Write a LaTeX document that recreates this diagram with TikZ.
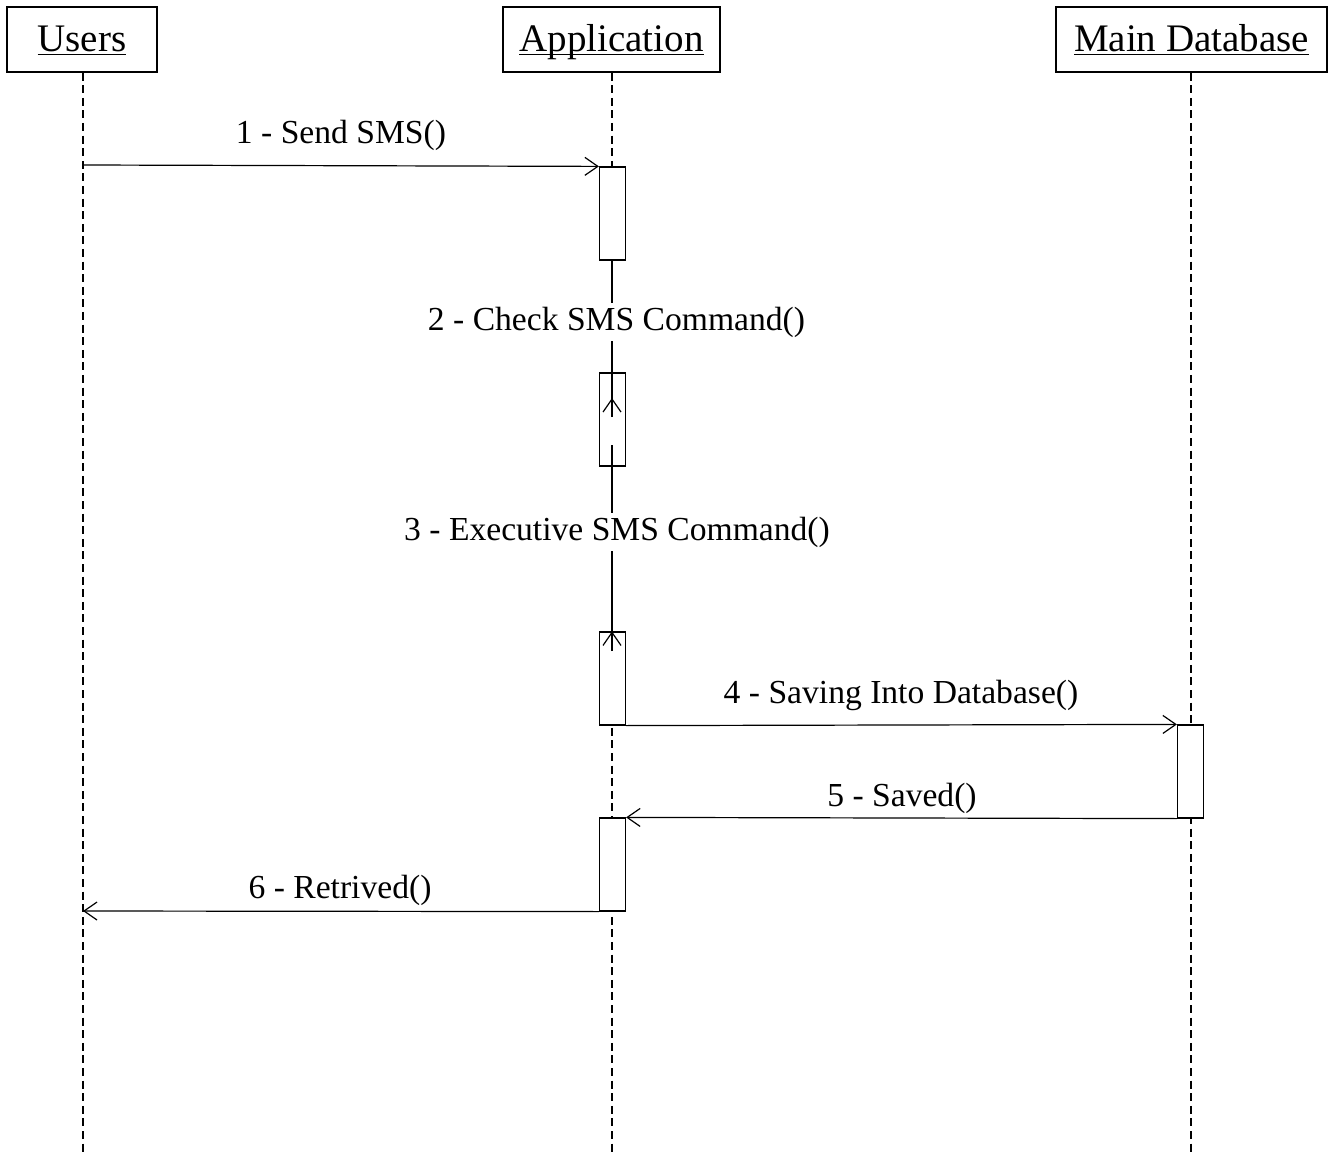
\documentclass[tikz,border=0pt]{standalone}
\usepackage{fontspec}
\setmainfont{Liberation Serif}
\usetikzlibrary{arrows.meta}

% underlined participant name, rule drawn just below the baseline
\newcommand{\seqactorname}[1]{\underline{\smash{#1}}}

\tikzset{
  actor/.style={draw, line width=0.6pt, inner sep=0pt, anchor=base,
    text height=22.5pt, text depth=10pt, font=\fontsize{19.5}{21}\selectfont},
  lifeline/.style={line width=0.6pt, dash pattern=on 4pt off 2.3pt},
  activation/.style={draw, fill=white, line width=0.6pt, inner sep=0pt,
    minimum width=13pt, minimum height=46.5pt},
  msg/.style={line width=0.6pt, -{Straight Barb[length=6.5pt,width=9pt,line width=0.6pt]}},
  selfline/.style={line width=0.6pt},
  msglabel/.style={anchor=base, inner sep=1pt, font=\fontsize{16.8}{18}\selectfont},
  msglabelbg/.style={msglabel, fill=white, inner sep=2pt}
}

\begin{document}
\begin{tikzpicture}[x=0.5pt, y=-0.5pt]
\useasboundingbox (0,0) rectangle (1328,1155);

% participants
\node[actor, minimum width=75pt] (users) at (82,52) {\seqactorname{Users}};
\node[actor, minimum width=108.5pt] (app) at (611.5,52) {\seqactorname{Application}};
\node[actor, minimum width=135.5pt] (db) at (1191.5,52) {\seqactorname{Main Database}};

% lifelines
\coordinate (usersend) at (83,1155);
\coordinate (append) at (612,1155);
\coordinate (dbend) at (1191,1155);
\draw[lifeline] (users.south -| usersend) -- (usersend);
\draw[lifeline] (app.south -| append) -- (append);
\draw[lifeline] (db.south -| dbend) -- (dbend);

% activation bars
\node[activation] (a1) at (612.5,213.5) {};
\node[activation] (a2) at (612.5,419.5) {};
\node[activation] (a3) at (612.5,678.5) {};
\node[activation] (adb) at (1190.5,771.5) {};
\node[activation] (a4) at (612.5,864.5) {};

% free ends on the lifelines
\coordinate (m1start) at (83,165);
\coordinate (m6end) at (83,911);
\coordinate (m2end) at (612,417);
\coordinate (m2tip) at (612,398);
\coordinate (m3start) at (612,445);
\coordinate (m3tail) at (612,651);

% messages
\draw[msg] (m1start) -- (a1.north west);
\draw[selfline] (a1.south -| m2end) -- (m2end);
\draw[msg] (m2end) -- (m2tip);
\draw[selfline] (m3start) -- (m3tail);
\draw[msg] (m3tail) -- (a3.north -| m3tail);
\draw[msg] (a3.south east) -- (adb.north west);
\draw[msg] (adb.south west) -- (a4.north east);
\draw[msg] (a4.south west) -- (m6end);

% message labels
\node[msglabel] (l1) at (341,144) {1 - Send SMS()};
\node[msglabelbg] (l2) at (616.5,330) {2 - Check SMS Command()};
\node[msglabelbg] (l3) at (617,540) {3 - Executive SMS Command()};
\node[msglabel] (l4) at (901,703) {4 - Saving Into Database()};
\node[msglabel] (l5) at (902,806) {5 - Saved()};
\node[msglabel] (l6) at (340,898) {6 - Retrived()};
\end{tikzpicture}
\end{document}
